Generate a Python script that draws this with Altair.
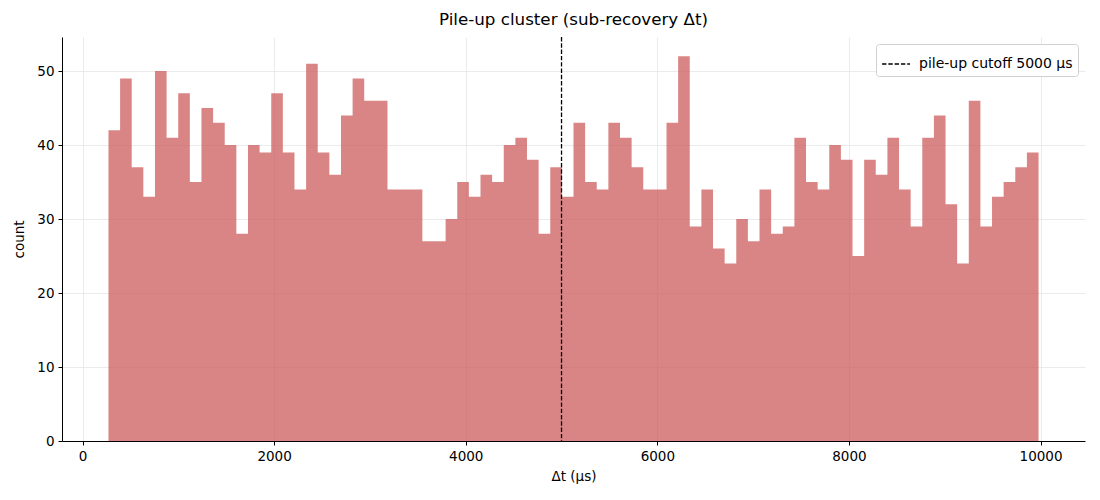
import altair as alt
import numpy as np
import pandas as pd

counts = [42, 49, 37, 33, 50, 41, 47, 35, 45, 43,
          40, 28, 40, 39, 47, 39, 34, 51, 39, 36,
          44, 49, 46, 46, 34, 34, 34, 27, 27, 30,
          35, 33, 36, 35, 40, 41, 38, 28, 37, 33,
          43, 35, 34, 43, 41, 37, 34, 34, 43, 52,
          29, 34, 26, 24, 30, 27, 34, 28, 29, 41,
          35, 34, 40, 38, 25, 38, 36, 41, 34, 29,
          41, 44, 32, 24, 46, 29, 33, 35, 37, 39]
dt_min = 271
dt_max = 9979
cutoff = 5000
x_ticks = [0, 2000, 4000, 6000, 8000, 10000]
y_ticks = [0, 10, 20, 30, 40, 50]

edges = np.linspace(dt_min, dt_max, len(counts) + 1)
# step outline: each bin's left edge with its count, closed at the last right edge
hist = pd.DataFrame({"edge": edges, "count": counts + [counts[-1]]})
cut = pd.DataFrame({"x": [cutoff], "label": [f"pile-up cutoff {cutoff} µs"]})

FONT = "DejaVu Sans"
xscale = alt.Scale(domain=[-214, 10464], nice=False, zero=False)
yscale = alt.Scale(domain=[0, 54.6], nice=False)

axis_common = dict(grid=True, gridColor="#e6e6e6", gridWidth=0.8,
                   domainColor="black", tickColor="black", tickSize=4,
                   labelFont=FONT, labelFontSize=13.5, labelColor="black",
                   titleFont=FONT, titleFontSize=13.5, titleFontWeight="normal",
                   titleColor="black", labelPadding=4)

bars = alt.Chart(hist).mark_area(color="#cd5c5c", opacity=0.75,
                                 interpolate="step-after").encode(
    x=alt.X("edge:Q", scale=xscale,
            axis=alt.Axis(values=x_ticks, title="Δt (µs)", format="d",
                          titlePadding=7, **axis_common)),
    y=alt.Y("count:Q", scale=yscale,
            axis=alt.Axis(values=y_ticks, title="count",
                          titlePadding=10, **axis_common)),
    y2=alt.datum(0),
)

rule = alt.Chart(cut).mark_rule(strokeDash=[4.4, 1.9], strokeWidth=1.3).encode(
    x=alt.X("x:Q", scale=xscale),
    color=alt.Color("label:N", scale=alt.Scale(range=["black"]),
                    legend=alt.Legend(title=None, orient="top-right",
                                      symbolType="stroke", symbolDash=[4.4, 1.9],
                                      symbolStrokeWidth=1.3, symbolSize=780,
                                      labelFont=FONT, labelFontSize=14,
                                      labelColor="black", labelOffset=8,
                                      strokeColor="#d0d0d0", fillColor="white",
                                      cornerRadius=3, padding=5, offset=7)),
)

chart = (bars + rule).properties(
    width=1023, height=404,
    background="white",
    title=alt.TitleParams("Pile-up cluster (sub-recovery Δt)", font=FONT,
                          fontSize=16.7, fontWeight="normal", color="black", offset=8),
    padding={"left": 54, "top": 29, "right": 7, "bottom": 50},
    autosize="none",
).configure_view(stroke="transparent", strokeWidth=0)

chart.save("out.html", embed_options={"renderer": "svg", "actions": False})
